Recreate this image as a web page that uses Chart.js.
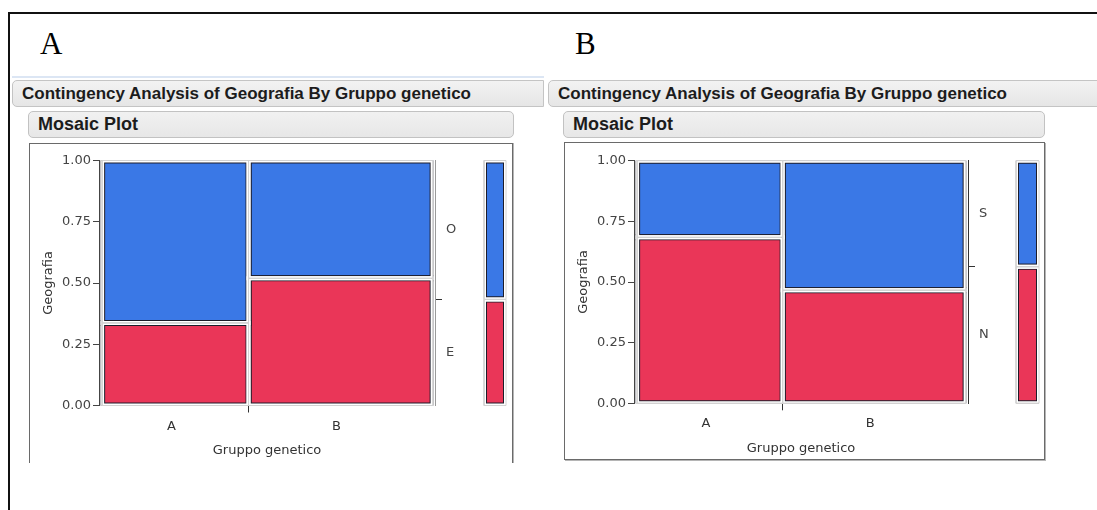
<!DOCTYPE html>
<html><head><meta charset="utf-8">
<script src="https://cdn.jsdelivr.net/npm/chart.js@4.4.1/dist/chart.umd.min.js"></script>
<style>
html,body{margin:0;padding:0;background:#fff}
body{width:1097px;height:510px;overflow:hidden;position:relative;font-family:'Liberation Sans',Arial,sans-serif}
.abs{position:absolute}
.outer{left:8px;top:12px;width:1200px;height:600px;border-top:2px solid #111;border-left:2px solid #111;box-sizing:border-box}
.letter{font-family:'Liberation Serif','Times New Roman',serif;font-size:31px;line-height:30px;color:#000}
.hdr{height:27px;box-sizing:border-box;background:linear-gradient(#f2f2f2,#e6e6e6);border:1px solid #c4c4c4;border-radius:5px 0 0 5px;font-weight:bold;font-size:17px;line-height:25px;color:#1c1c1c;padding-left:9px;white-space:nowrap}
.mos{height:27px;box-sizing:border-box;background:linear-gradient(#f1f1f1,#e7e7e7);border:1px solid #c2c2c2;border-radius:5px;font-weight:bold;font-size:18px;line-height:25px;color:#1c1c1c;padding-left:9px;white-space:nowrap}
.frame{box-sizing:border-box;border:1px solid #6a6a6a;box-shadow:1px 1px 0 #b5b5b5}
canvas{display:block}
</style>
</head><body>
<div class="abs outer"></div>
<div class="abs letter" id="letterA" style="left:40px;top:29px"></div>
<div class="abs letter" id="letterB" style="left:575px;top:29px"></div>
<div class="abs" style="left:12px;top:76px;width:532px;height:2px;background:#dce6f4"></div>
<div class="abs hdr" id="hdrA" style="left:12px;top:80px;width:532px"></div>
<div class="abs hdr" id="hdrB" style="left:548px;top:80px;width:600px"></div>
<div class="abs mos" id="mosA" style="left:28px;top:111px;width:486px"></div>
<div class="abs mos" id="mosB" style="left:563px;top:111px;width:482px"></div>
<div class="abs frame" style="left:29px;top:143px;width:484px;height:320px;border-bottom:none;box-shadow:1px 0 0 #b5b5b5"></div>
<div class="abs frame" style="left:564px;top:142px;width:481px;height:318px"></div>
<canvas class="abs" id="mainA" width="444" height="316" style="left:31px;top:145px"></canvas>
<canvas class="abs" id="margA" width="34" height="270" style="left:478px;top:145px"></canvas>
<canvas class="abs" id="mainB" width="442" height="314" style="left:566px;top:145px"></canvas>
<canvas class="abs" id="margB" width="35" height="270" style="left:1010px;top:145px"></canvas>
<script>
// ---------- data ----------
const panelLetters = ['A', 'B'];
const headerText = 'Contingency Analysis of Geografia By Gruppo genetico';
const subHeaderText = 'Mosaic Plot';
const groups = ['A', 'B'];                 // Gruppo genetico
const groupShare = [0.443, 0.557];         // column widths (share of individuals)
// panel A : Geografia E (bottom) / O (top)
const levelsA = ['E', 'O'];
const bottomShareA = [0.337, 0.519];       // share of E within A, B
const marginalBottomA = 0.433;             // overall share of E
// panel B : Geografia N (bottom) / S (top)
const levelsB = ['N', 'S'];
const bottomShareB = [0.684, 0.466];       // share of N within A, B
const marginalBottomB = 0.563;             // overall share of N
const yTicks = [0, 0.25, 0.5, 0.75, 1];
const yTickLabels = ['0.00', '0.25', '0.50', '0.75', '1.00'];
const xTitle = 'Gruppo genetico';
const yTitle = 'Geografia';

// ---------- styles ----------
const RED = '#ea3658', BLUE = '#3a78e6', DARK = '#1d1d2a';
const FONT = {family: "'DejaVu Sans', sans-serif", size: 13};

document.getElementById('letterA').textContent = panelLetters[0];
document.getElementById('letterB').textContent = panelLetters[1];
document.getElementById('hdrA').textContent = headerText;
document.getElementById('hdrB').textContent = headerText;
document.getElementById('mosA').textContent = subHeaderText;
document.getElementById('mosB').textContent = subHeaderText;

function rectPts(x0, x1, y0, y1) {
  return [{x:x0,y:y0},{x:x1,y:y0},{x:x1,y:y1},{x:x0,y:y1},{x:x0,y:y0},{x:x1,y:y0}];
}
function cellDatasets(cells, clip) {
  const ds = [];
  cells.forEach(c => {
    const pts = rectPts(c.x0, c.x1, c.y0, c.y1);
    const base = {data: pts, showLine: true, pointRadius: 0, pointHoverRadius: 0, xAxisID: 'x', yAxisID: 'y'};
    ds.push(Object.assign({}, base, {fill: 'shape', backgroundColor: c.color, borderColor: DARK, borderWidth: 6, order: 2, clip: clip}));
    ds.push(Object.assign({}, base, {fill: false, borderColor: '#ffffff', borderWidth: 4, order: 1, clip: clip}));
    ds.push(Object.assign({}, base, {fill: false, borderColor: '#d2d2d2', borderWidth: 1, order: 0, clip: false}));
  });
  return ds;
}
const common = {
  responsive: false, animation: false, events: [],
  plugins: {legend: {display: false}, tooltip: {enabled: false}}
};

function mainChart(id, bottomShare, levels, marginal, g) {
  const cells = [], centers = [], bounds = [];
  let cum = 0;
  groups.forEach((name, i) => {
    const x0 = cum, x1 = cum + groupShare[i];
    cells.push({x0, x1, y0: 0, y1: bottomShare[i], color: RED});
    cells.push({x0, x1, y0: bottomShare[i], y1: 1, color: BLUE});
    centers.push((x0 + x1) / 2);
    if (i > 0) bounds.push(x0);
    cum = x1;
  });
  const xTickVals = [centers[0], bounds[0], centers[1]];
  const xTickLabels = [groups[0], '', groups[1]];
  const rTickVals = [marginal / 2, marginal, (1 + marginal) / 2];
  const rTickLabels = [levels[0], '', levels[1]];
  const onlyMid = col => c => (c.index === 1 ? col : 'rgba(0,0,0,0)');
  new Chart(document.getElementById(id), {
    type: 'scatter',
    data: {datasets: cellDatasets(cells, {left: -1.5, right: -1.5, top: 0, bottom: 0})},
    options: Object.assign({}, common, {
      layout: {padding: {top: g.padTop, left: 0, right: 0, bottom: 0}},
      scales: {
        x: {type: 'linear', position: 'bottom', min: -0.0095, max: 1.0072,
          afterBuildTicks: s => { s.ticks = xTickVals.map(v => ({value: v})); },
          afterFit: s => { s.height = g.xH; },
          grid: {drawOnChartArea: false, drawTicks: true, tickLength: 7, color: 'rgba(0,0,0,0)', tickColor: onlyMid('#333')},
          border: {display: false},
          ticks: {autoSkip: false, maxRotation: 0, padding: 6, labelOffset: -4, color: '#333', font: FONT,
            callback: (v, i) => xTickLabels[i]},
          title: {display: true, text: xTitle, color: '#333', font: FONT, padding: {top: 2, bottom: 3}}
        },
        y: {type: 'linear', position: 'left', min: 0, max: 1,
          afterBuildTicks: s => { s.ticks = yTicks.map(v => ({value: v})); },
          afterFit: s => { s.width = g.yW; },
          grid: {drawOnChartArea: false, tickLength: 6, tickColor: '#444'},
          border: {display: true, color: '#444', width: 1, z: 1},
          ticks: {padding: 2, color: '#444', font: FONT, callback: (v, i) => yTickLabels[i]},
          title: {display: true, text: yTitle, color: '#333', font: FONT, padding: {top: 10, bottom: 0}}
        },
        yr: {type: 'linear', position: 'right', min: 0, max: 1,
          afterBuildTicks: s => { s.ticks = rTickVals.map(v => ({value: v})); },
          afterFit: s => { s.width = g.rW; },
          grid: {drawOnChartArea: false, tickLength: 7, color: 'rgba(0,0,0,0)', tickColor: onlyMid('#333')},
          border: {display: true, color: g.rightBorder, width: 1, z: 1},
          ticks: {autoSkip: false, padding: 4, color: '#444', font: FONT, callback: (v, i) => rTickLabels[i]}
        }
      }
    })
  });
}

function marginalChart(id, marginal, pad) {
  const cells = [
    {x0: 0, x1: 1, y0: 0, y1: marginal, color: RED},
    {x0: 0, x1: 1, y0: marginal, y1: 1, color: BLUE}
  ];
  new Chart(document.getElementById(id), {
    type: 'scatter',
    data: {datasets: cellDatasets(cells, 0)},
    options: Object.assign({}, common, {
      layout: {padding: pad},
      scales: {
        x: {type: 'linear', display: false, min: 0, max: 1},
        y: {type: 'linear', display: false, min: 0, max: 1}
      }
    })
  });
}

mainChart('mainA', bottomShareA, levelsA, marginalBottomA, {padTop: 15.5, yW: 68, rW: 40, xH: 55.5, rightBorder: '#9a9a9a'});
mainChart('mainB', bottomShareB, levelsB, marginalBottomB, {padTop: 15.7, yW: 68, rW: 40, xH: 55.7, rightBorder: '#333'});
marginalChart('margA', marginalBottomA, {top: 15.5, bottom: 9.5, left: 6, right: 6});
marginalChart('margB', marginalBottomB, {top: 15.7, bottom: 11.7, left: 6, right: 6});
</script>
</body></html>
